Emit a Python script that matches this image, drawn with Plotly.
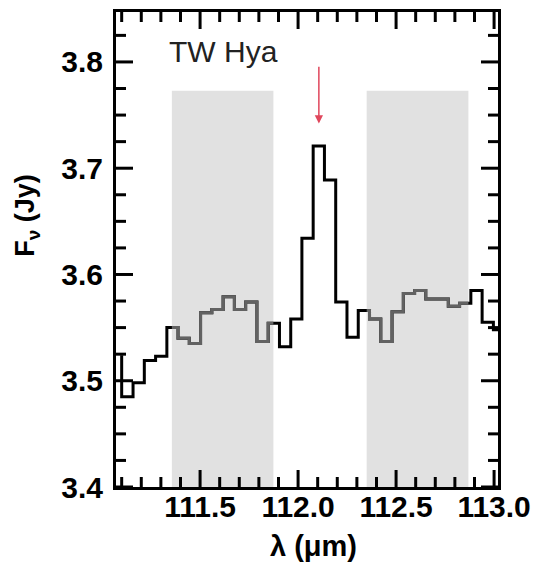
import plotly.graph_objects as go

# ---- data ----
wavelength = [111.129, 111.187, 111.244, 111.302, 111.359, 111.416, 111.474, 111.531,
              111.589, 111.646, 111.704, 111.761, 111.819, 111.876, 111.934, 111.991,
              112.048, 112.106, 112.163, 112.221, 112.278, 112.336, 112.393, 112.451,
              112.508, 112.566, 112.623, 112.680, 112.738, 112.795, 112.853, 112.910,
              112.968, 113.025]
flux = [3.485, 3.498, 3.519, 3.523, 3.550, 3.540, 3.535, 3.564,
        3.567, 3.579, 3.567, 3.574, 3.537, 3.554, 3.532, 3.558,
        3.634, 3.721, 3.689, 3.574, 3.541, 3.566, 3.558, 3.537,
        3.565, 3.582, 3.585, 3.577, 3.577, 3.570, 3.573, 3.585,
        3.555, 3.548]
flux_before = 3.524          # level of the (clipped) bin preceding the first one
continuum_bands = [(111.356, 111.874), (112.350, 112.869)]
band_top = 3.773
line_wavelength = 112.106
arrow_from, arrow_to = 3.797, 3.742
label = "TW Hya"
label_pos = (111.617, 3.810)
xticks = [111.5, 112.0, 112.5, 113.0]
yticks = [3.4, 3.5, 3.6, 3.7, 3.8]
x_range = [111.071, 113.020]
y_range = [3.4, 3.847]

# ---- build histogram-step path from bin centres ----
n = len(wavelength)
edges = [wavelength[0] - (wavelength[1] - wavelength[0]) / 2]
for i in range(n - 1):
    edges.append((wavelength[i] + wavelength[i + 1]) / 2)
edges.append(wavelength[-1] + (wavelength[-1] - wavelength[-2]) / 2)

sx, sy = [edges[0]], [flux_before]
for i in range(n):
    sx += [edges[i], edges[i + 1]]
    sy += [flux[i], flux[i]]


def value_at(x):
    for i in range(n):
        if edges[i] <= x < edges[i + 1]:
            return flux[i]
    return flux[-1]


def clipped_step(a, b):
    px, py = [a], [value_at(a)]
    for i in range(1, n):
        e = edges[i]
        if a < e < b:
            px += [e, e]
            py += [flux[i - 1], flux[i]]
    px.append(b)
    py.append(value_at(b))
    return px, py


FONT = "Liberation Sans, Arial, sans-serif"

# figure geometry (page has an 8 px body margin)
W, H = 537, 556
ML, MR, MT, MB = 108, 47, 4, 77
PW, PH = W - ML - MR, H - MT - MB

fig = go.Figure()

for a, b in continuum_bands:
    fig.add_shape(type="rect", xref="x", yref="y", x0=a, x1=b, y0=y_range[0], y1=band_top,
                  fillcolor="#e1e1e1", line_width=0, layer="below")

fig.add_trace(go.Scatter(x=sx, y=sy, mode="lines",
                         line=dict(color="black", width=3), showlegend=False,
                         hoverinfo="skip"))
for a, b in continuum_bands:
    gx, gy = clipped_step(a, b)
    fig.add_trace(go.Scatter(x=gx, y=gy, mode="lines",
                             line=dict(color="#626262", width=3), showlegend=False,
                             hoverinfo="skip"))

# ---- inward ticks on all four sides (shapes in axis/paper coordinates) ----
MAJ_LEN, MIN_LEN = 17, 10
x_minor = [round(111.1 + 0.1 * i, 1) for i in range(20)]
x_minor = [v for v in x_minor if v not in xticks and x_range[0] < v < x_range[1]]
y_minor = [round(3.4 + 0.025 * i, 3) for i in range(18)]
y_minor = [v for v in y_minor if v not in yticks and y_range[0] < v < y_range[1]]

for vals, L, w in [(xticks, MAJ_LEN, 3), (x_minor, MIN_LEN, 3)]:
    for v in vals:
        fig.add_shape(type="line", xref="x", yref="paper", x0=v, x1=v, y0=0, y1=L / PH,
                      line=dict(color="black", width=w), layer="above")
        fig.add_shape(type="line", xref="x", yref="paper", x0=v, x1=v, y0=1, y1=1 - L / PH,
                      line=dict(color="black", width=w), layer="above")
for vals, L, w in [(yticks, MAJ_LEN, 3), (y_minor, MIN_LEN, 3)]:
    for v in vals:
        fig.add_shape(type="line", xref="paper", yref="y", x0=0, x1=L / PW, y0=v, y1=v,
                      line=dict(color="black", width=w), layer="above")
        fig.add_shape(type="line", xref="paper", yref="y", x0=1, x1=1 - L / PW, y0=v, y1=v,
                      line=dict(color="black", width=w), layer="above")

fig.add_annotation(x=line_wavelength, y=arrow_to, ax=line_wavelength, ay=arrow_from,
                   xref="x", yref="y", axref="x", ayref="y", text="",
                   showarrow=True, arrowhead=2, arrowsize=1.1, arrowwidth=1.5,
                   arrowcolor="#e0475c")

fig.add_annotation(x=label_pos[0], y=label_pos[1], xref="x", yref="y", text=label,
                   showarrow=False, xanchor="center", yanchor="middle",
                   font=dict(family=FONT, size=30, color="#222222"))

fig.add_annotation(x=-0.233, y=0.573, xref="paper", yref="paper",
                   text="<b>F<sub>ν</sub> (Jy)</b>", textangle=-90, showarrow=False,
                   xanchor="center", yanchor="middle",
                   font=dict(family=FONT, size=27, color="black"))
fig.add_annotation(x=0.516, y=-0.124, xref="paper", yref="paper",
                   text="<b>λ (μm)</b>", showarrow=False, xanchor="center", yanchor="middle",
                   font=dict(family=FONT, size=29, color="black"))

axis_common = dict(showgrid=False, zeroline=False, showline=True, linecolor="black",
                   linewidth=3, mirror=True, ticks="", automargin=False,
                   tickfont=dict(family=FONT, size=30, color="black", weight="bold"))

fig.update_xaxes(range=x_range, tickmode="array", tickvals=xticks,
                 ticktext=[f"{v:.1f}" for v in xticks], ticklabelstandoff=-9,
                 **axis_common)
fig.update_yaxes(range=y_range, tickmode="array", tickvals=yticks,
                 ticktext=[f"{v:.1f}" for v in yticks], ticklabelstandoff=4,
                 **axis_common)

fig.update_layout(template="none", width=W, height=H,
                  margin=dict(l=ML, r=MR, t=MT, b=MB, autoexpand=False),
                  paper_bgcolor="white", plot_bgcolor="white", showlegend=False)

fig.write_html("out.html")
